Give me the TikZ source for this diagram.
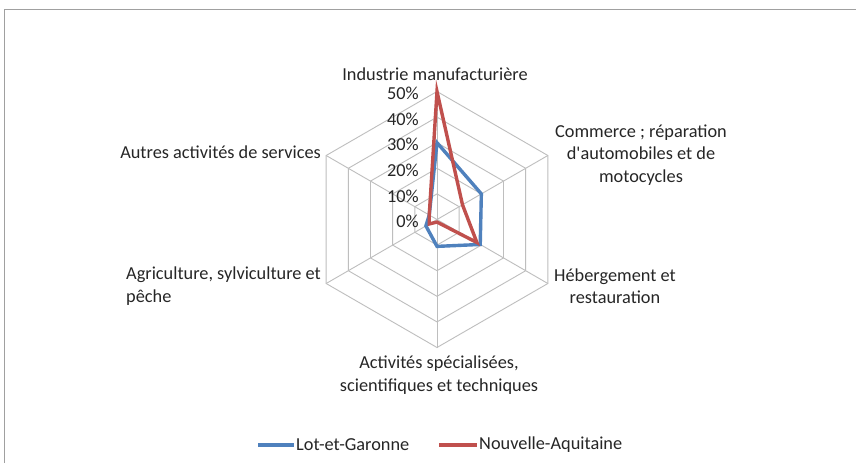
\documentclass[tikz,border=0pt]{standalone}
\usepackage{fontspec}
\setmainfont{Carlito}[Ligatures=TeXOff]
\usetikzlibrary{calc}
\definecolor{serblue}{HTML}{4F81BD}
\definecolor{serred}{HTML}{C0504D}
\definecolor{gridgray}{HTML}{BEBEBE}
\definecolor{framegray}{HTML}{A0A0A0}
\begin{document}
\begin{tikzpicture}[x=1pt,y=-1pt,
  lbl/.style={font=\fontsize{18.3}{22.5}\selectfont, text=black!85, inner sep=0pt},
  pct/.style={font=\fontsize{18.3}{20}\selectfont, text=black!85, inner sep=0pt, anchor=east},
  gridline/.style={draw=gridgray, line width=0.9pt},
  series/.style={line width=3.4pt, line join=miter},
]
\useasboundingbox (0,0) rectangle (856,463);
\fill[white] (0,0) rectangle (856,463);
% frame
\coordinate (ftl) at (4,9);
\coordinate (ftr) at (856,9);
\coordinate (fbl) at (4,463);
\draw[framegray, line width=0.9pt] (fbl) -- (ftl) -- (ftr);
% center (y axis points down, so angles are mirrored)
\coordinate (C) at (437,219.5);
\def\unit{2.56}
% grid rings
\foreach \r in {10,20,30,40,50}{
  \draw[gridline] ($(C)+(-90:\r*\unit)$) \foreach \a in {-30,30,90,150,-150}{ -- ($(C)+(\a:\r*\unit)$)} -- cycle;
}
% spokes
\foreach \a in {-90,-30,30,90,150,-150}{
  \draw[gridline] (C) -- ($(C)+(\a:50*\unit)$);
}
% series points: Lot-et-Garonne
\coordinate (b1) at ($(C)+(-90:30*\unit)$);
\coordinate (b2) at ($(C)+(-30:20*\unit)$);
\coordinate (b3) at ($(C)+(30:19.5*\unit)$);
\coordinate (b4) at ($(C)+(90:10.5*\unit)$);
\coordinate (b5) at ($(C)+(150:5*\unit)$);
\coordinate (b6) at ($(C)+(-150:3.5*\unit)$);
% Nouvelle-Aquitaine
\coordinate (r1) at ($(C)+(-90:50*\unit)$);
\coordinate (r2) at ($(C)+(-30:11.5*\unit)$);
\coordinate (r3) at ($(C)+(30:18*\unit)$);
\coordinate (r4) at ($(C)+(90:1*\unit)$);
\coordinate (r5) at ($(C)+(150:3.5*\unit)$);
\coordinate (r6) at ($(C)+(-150:3.5*\unit)$);
\draw[series, serblue] (b1) -- (b2) -- (b3) -- (b4) -- (b5) -- (b6) -- cycle;
\draw[series, serred] (r1) -- (r2) -- (r3) -- (r4) -- (r5) -- (r6) -- cycle;
% percent labels
\foreach \v/\n in {0/p0,10/p1,20/p2,30/p3,40/p4,50/p5}{
  \node[pct] (\n) at ($(C)+(-18,-\v*\unit+2)$) {\v\%};
}
% category labels
\node[lbl] (cat1) at (435,74) {Industrie manufacturière};
\node[lbl, align=center] (cat2) at (641,155) {Commerce ; réparation\\d'automobiles et de\\motocycles};
\node[lbl, align=center, anchor=west] (cat3) at (554,286) {Hébergement et\\restauration};
\node[lbl, align=center] (cat4) at (439,375) {Activités spécialisées,\\scientifiques et techniques};
\node[lbl, align=left, anchor=east] (cat5) at (321,286) {Agriculture, sylviculture et\\pêche};
\node[lbl, anchor=east] (cat6) at (321,152) {Autres activités de services};
% legend
\coordinate (lb1) at (258,445);
\coordinate (lb2) at (294,445);
\coordinate (lr1) at (439,445);
\coordinate (lr2) at (477,445);
\draw[serblue, line width=3.4pt] (lb1) -- (lb2);
\draw[serred, line width=3.4pt] (lr1) -- (lr2);
\node[lbl, anchor=west] (leg1) at (296,445) {Lot-et-Garonne};
\node[lbl, anchor=west] (leg2) at (479,445) {Nouvelle-Aquitaine};
\end{tikzpicture}
\end{document}
